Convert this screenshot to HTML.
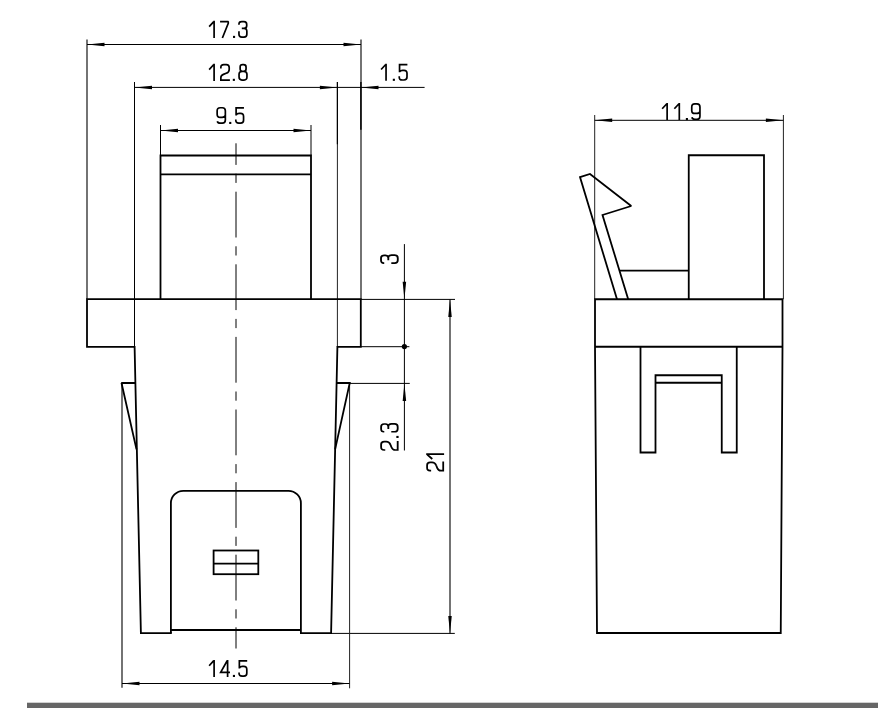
<!DOCTYPE html>
<html><head><meta charset="utf-8"><style>
html,body{margin:0;padding:0;background:#fff;width:896px;height:727px;overflow:hidden}
svg{display:block;will-change:transform}
text{font-family:"Liberation Sans",sans-serif;font-size:24px;fill:#000}
</style></head><body>
<svg width="896" height="727" viewBox="0 0 896 727">
<rect width="896" height="727" fill="#fff"/>
<line x1="87" y1="39.5" x2="87" y2="299.2" stroke="#000" stroke-width="1.1" />
<line x1="361" y1="39.5" x2="361" y2="299.2" stroke="#000" stroke-width="1.1" />
<line x1="134.5" y1="82" x2="134.5" y2="346.6" stroke="#000" stroke-width="1.0" />
<line x1="337.4" y1="82" x2="337.4" y2="346.9" stroke="#222" stroke-width="1.0" />
<line x1="337.4" y1="82" x2="337.4" y2="144.3" stroke="#000" stroke-width="1.2" />
<line x1="360.9" y1="82" x2="360.9" y2="129.7" stroke="#000" stroke-width="1.4" />
<line x1="160.5" y1="125" x2="160.5" y2="155.5" stroke="#000" stroke-width="1.0" />
<line x1="311" y1="125" x2="311" y2="155.5" stroke="#000" stroke-width="1.0" />
<line x1="87" y1="44.5" x2="361" y2="44.5" stroke="#000" stroke-width="1.0" />
<path d="M87.00,44.50 L104.50,42.75 L104.50,46.25 Z" fill="#000"/>
<path d="M361.00,44.50 L343.50,42.75 L343.50,46.25 Z" fill="#000"/>
<line x1="134.5" y1="87.4" x2="424.6" y2="87.4" stroke="#000" stroke-width="1.0" />
<path d="M134.50,87.40 L152.00,85.65 L152.00,89.15 Z" fill="#000"/>
<path d="M337.40,87.40 L319.90,85.65 L319.90,89.15 Z" fill="#000"/>
<path d="M361.00,87.40 L378.50,85.65 L378.50,89.15 Z" fill="#000"/>
<line x1="160.5" y1="130.5" x2="311" y2="130.5" stroke="#000" stroke-width="1.0" />
<path d="M160.50,130.50 L178.00,128.75 L178.00,132.25 Z" fill="#000"/>
<path d="M311.00,130.50 L293.50,128.75 L293.50,132.25 Z" fill="#000"/>
<line x1="360.8" y1="299.4" x2="455" y2="299.4" stroke="#000" stroke-width="1.0" />
<line x1="360.8" y1="346.7" x2="409.4" y2="346.7" stroke="#000" stroke-width="1.0" />
<line x1="349.75" y1="383.4" x2="409.75" y2="383.4" stroke="#000" stroke-width="1.0" />
<line x1="331.1" y1="633.4" x2="454.8" y2="633.4" stroke="#000" stroke-width="1.0" />
<line x1="404.4" y1="244.1" x2="404.4" y2="450.5" stroke="#000" stroke-width="1.0" />
<path d="M404.40,299.20 L402.65,281.70 L406.15,281.70 Z" fill="#000"/>
<path d="M404.40,383.40 L402.65,400.90 L406.15,400.90 Z" fill="#000"/>
<circle cx="404.4" cy="346.6" r="2.6" fill="#000"/>
<line x1="450" y1="299.4" x2="450" y2="633.4" stroke="#000" stroke-width="1.1" />
<path d="M450.00,299.40 L448.25,316.90 L451.75,316.90 Z" fill="#000"/>
<path d="M450.00,633.40 L448.25,615.90 L451.75,615.90 Z" fill="#000"/>
<line x1="122" y1="383" x2="122" y2="687.8" stroke="#000" stroke-width="1.1" />
<line x1="349.6" y1="383.4" x2="349.6" y2="688.3" stroke="#222" stroke-width="1.0" />
<line x1="122" y1="683.5" x2="349.6" y2="683.5" stroke="#000" stroke-width="1.0" />
<path d="M122.00,683.50 L139.50,681.75 L139.50,685.25 Z" fill="#000"/>
<path d="M349.60,683.50 L332.10,681.75 L332.10,685.25 Z" fill="#000"/>
<line x1="236" y1="143.3" x2="236" y2="648.5" stroke="#000" stroke-width="1" stroke-dasharray="45.8 8.8 9.2 8.8" stroke-dashoffset="-48.4"/>
<path d="M160.5,299.2 L160.5,155.5 L311,155.5 L311,299.2" fill="none" stroke="#000" stroke-width="1.8" stroke-linejoin="miter" stroke-miterlimit="1.6" stroke-linecap="butt"/>
<line x1="160.5" y1="174.35" x2="311" y2="174.35" stroke="#000" stroke-width="1.8" />
<path d="M171.8,633.1 L140.9,633.1 L134.6,346.9 L87,346.9 L87,299.2 L360.8,299.2 L360.8,346.9 L337.4,346.9 L331.1,633.1 L300,633.1" fill="none" stroke="#000" stroke-width="1.8" stroke-linejoin="miter" stroke-miterlimit="1.6" stroke-linecap="butt"/>
<path d="M170.9,633.1 L170.9,503.2 A12.4,12.4 0 0 1 183.3,490.8 L288.5,490.8 A12.4,12.4 0 0 1 300.9,503.2 L300.9,633.1" fill="none" stroke="#000" stroke-width="1.8"/>
<line x1="170.9" y1="630" x2="300.9" y2="630" stroke="#000" stroke-width="1.8" />
<rect x="213.6" y="550.5" width="44.7" height="23.7" fill="none" stroke="#000" stroke-width="1.8"/>
<line x1="213.6" y1="563.7" x2="258.3" y2="563.7" stroke="#000" stroke-width="1.8" />
<path d="M135.4,383 L121.5,383 L136.5,449.4" fill="none" stroke="#000" stroke-width="1.8" stroke-linejoin="miter" stroke-miterlimit="1.6" stroke-linecap="butt"/>
<path d="M336.3,383 L349.75,383 L335.1,449.4" fill="none" stroke="#000" stroke-width="1.8" stroke-linejoin="miter" stroke-miterlimit="1.6" stroke-linecap="butt"/>
<line x1="594.7" y1="115" x2="594.7" y2="299.25" stroke="#222" stroke-width="1.0" />
<line x1="783.4" y1="115" x2="783.4" y2="299.25" stroke="#222" stroke-width="1.0" />
<line x1="594.7" y1="120.3" x2="783.4" y2="120.3" stroke="#000" stroke-width="1.0" />
<path d="M594.70,120.30 L612.20,118.55 L612.20,122.05 Z" fill="#000"/>
<path d="M783.40,120.30 L765.90,118.55 L765.90,122.05 Z" fill="#000"/>
<path d="M688.75,299.25 L688.75,155.25 L764,155.25 L764,299.25" fill="none" stroke="#000" stroke-width="1.8" stroke-linejoin="miter" stroke-miterlimit="1.6" stroke-linecap="butt"/>
<line x1="619.75" y1="270.6" x2="688.75" y2="270.6" stroke="#000" stroke-width="1.8" />
<path d="M617,299.25 L580,177.1 L590,174 L631.25,206 L602.5,215 L628.2,299.25" fill="none" stroke="#000" stroke-width="1.8" stroke-linejoin="miter" stroke-miterlimit="1.6" stroke-linecap="butt"/>
<path d="M595,299.25 L782.5,299.25 L782.5,346.75 L780.75,633 L597,633 L595,346.75 Z" fill="none" stroke="#000" stroke-width="1.8" stroke-linejoin="miter" stroke-miterlimit="1.6" stroke-linecap="butt"/>
<line x1="595" y1="346.75" x2="782.5" y2="346.75" stroke="#000" stroke-width="1.8" />
<path d="M640.5,346.75 L640.5,452.5 L655.5,452.5 L655.5,375.25 L721.75,375.25 L721.75,452.5 L736.75,452.5 L736.75,346.75" fill="none" stroke="#000" stroke-width="1.8" stroke-linejoin="miter" stroke-miterlimit="1.6" stroke-linecap="butt"/>
<line x1="655.5" y1="382.75" x2="721.75" y2="382.75" stroke="#000" stroke-width="1.8" />
<g transform="translate(0,20.85)" fill="none" stroke="#000" stroke-width="1.7"><path transform="translate(208.55,0)" d="M5.55,0 L5.55,17.1 M0.6,5.8 L5.0,1.0"/><path transform="translate(220.07,0)" d="M0,0.85 L8.1,0.85 Q8.4,1.0 8.2,2.4 L2.3,17.1"/><rect x="233.00" y="15.0" width="2.1" height="2.1" fill="#000" stroke="none"/><path transform="translate(238.10,0)" d="M0.85,3.8 L0.85,3.4 Q0.85,0.85 3.6,0.85 L5.9,0.85 Q8.6,0.85 8.6,3.6 L8.6,4.9 Q8.6,7.55 5.9,7.55 L3.7,7.55 M5.9,7.55 Q8.75,7.55 8.75,10.5 L8.75,13.4 Q8.75,16.25 5.9,16.25 L3.7,16.25 Q0.85,16.25 0.85,13.4 L0.85,10.3"/></g>
<g transform="translate(0,63.80)" fill="none" stroke="#000" stroke-width="1.7"><path transform="translate(208.55,0)" d="M5.55,0 L5.55,17.1 M0.6,5.8 L5.0,1.0"/><path transform="translate(220.00,0)" d="M0.85,4.7 L0.85,3.6 Q0.85,0.85 3.8,0.85 L6.3,0.85 Q9.2,0.85 9.2,3.8 L9.2,5.6 Q9.2,8.4 6.2,9.5 L3.4,10.6 Q0.85,11.6 0.85,14.0 L0.85,16.25 L9.9,16.25"/><rect x="232.80" y="15.0" width="2.1" height="2.1" fill="#000" stroke="none"/><path transform="translate(238.20,0)" d="M4.9,7.5 L3.9,7.5 Q1.95,7.5 1.95,5.2 L1.95,3.3 Q1.95,0.85 4.4,0.85 L5.4,0.85 Q7.85,0.85 7.85,3.3 L7.85,5.2 Q7.85,7.5 5.6,7.5 L3.9,7.5 Q0.85,7.5 0.85,10.5 L0.85,13.3 Q0.85,16.25 3.8,16.25 L5.8,16.25 Q8.75,16.25 8.75,13.3 L8.75,10.5 Q8.75,7.5 5.6,7.5"/></g>
<g transform="translate(0,659.90)" fill="none" stroke="#000" stroke-width="1.7"><path transform="translate(208.55,0)" d="M5.55,0 L5.55,17.1 M0.6,5.8 L5.0,1.0"/><path transform="translate(219.80,0)" d="M7.8,0 L7.8,17.1 M7.4,0.85 L0.85,12.5 L10.2,12.5"/><rect x="232.90" y="15.0" width="2.1" height="2.1" fill="#000" stroke="none"/><path transform="translate(238.20,0)" d="M9.0,0.95 L1.15,0.95 L1.15,8.6 M1.15,8.2 Q1.9,6.55 4.2,6.55 L5.6,6.55 Q8.6,6.55 8.6,9.6 L8.6,13.3 Q8.6,16.25 5.6,16.25 L3.9,16.25 Q0.85,16.25 0.85,13.4 L0.85,12.5"/></g>
<g transform="translate(0,106.90)" fill="none" stroke="#000" stroke-width="1.7"><path transform="translate(216.30,0)" d="M9.05,8.4 Q8.4,10.45 5.8,10.45 L3.9,10.45 Q0.85,10.45 0.85,7.4 L0.85,3.9 Q0.85,0.85 3.9,0.85 L6.0,0.85 Q9.05,0.85 9.05,3.9 L9.05,13.2 Q9.05,16.25 6.0,16.25 L3.9,16.25 Q1.5,16.25 1.0,14.3"/><rect x="229.20" y="15.0" width="2.1" height="2.1" fill="#000" stroke="none"/><path transform="translate(234.96,0)" d="M9.0,0.95 L1.15,0.95 L1.15,8.6 M1.15,8.2 Q1.9,6.55 4.2,6.55 L5.6,6.55 Q8.6,6.55 8.6,9.6 L8.6,13.3 Q8.6,16.25 5.6,16.25 L3.9,16.25 Q0.85,16.25 0.85,13.4 L0.85,12.5"/></g>
<g transform="translate(0,63.75)" fill="none" stroke="#000" stroke-width="1.7"><path transform="translate(380.50,0)" d="M5.55,0 L5.55,17.1 M0.6,5.8 L5.0,1.0"/><rect x="392.80" y="15.0" width="2.1" height="2.1" fill="#000" stroke="none"/><path transform="translate(398.40,0)" d="M9.0,0.95 L1.15,0.95 L1.15,8.6 M1.15,8.2 Q1.9,6.55 4.2,6.55 L5.6,6.55 Q8.6,6.55 8.6,9.6 L8.6,13.3 Q8.6,16.25 5.6,16.25 L3.9,16.25 Q0.85,16.25 0.85,13.4 L0.85,12.5"/></g>
<g transform="translate(0,103.00)" fill="none" stroke="#000" stroke-width="1.7"><path transform="translate(661.58,0)" d="M5.55,0 L5.55,17.1 M0.6,5.8 L5.0,1.0"/><path transform="translate(673.75,0)" d="M5.55,0 L5.55,17.1 M0.6,5.8 L5.0,1.0"/><rect x="685.85" y="15.0" width="2.1" height="2.1" fill="#000" stroke="none"/><path transform="translate(690.90,0)" d="M9.05,8.4 Q8.4,10.45 5.8,10.45 L3.9,10.45 Q0.85,10.45 0.85,7.4 L0.85,3.9 Q0.85,0.85 3.9,0.85 L6.0,0.85 Q9.05,0.85 9.05,3.9 L9.05,13.2 Q9.05,16.25 6.0,16.25 L3.9,16.25 Q1.5,16.25 1.0,14.3"/></g>
<g transform="translate(380.10,263.90) rotate(-90) scale(1,1.0877)" fill="none" stroke="#000" stroke-width="1.7"><path transform="translate(0.00,0)" d="M0.85,3.8 L0.85,3.4 Q0.85,0.85 3.6,0.85 L5.9,0.85 Q8.6,0.85 8.6,3.6 L8.6,4.9 Q8.6,7.55 5.9,7.55 L3.7,7.55 M5.9,7.55 Q8.75,7.55 8.75,10.5 L8.75,13.4 Q8.75,16.25 5.9,16.25 L3.7,16.25 Q0.85,16.25 0.85,13.4 L0.85,10.3"/></g>
<g transform="translate(380.20,450.85) rotate(-90) scale(1,1.0760)" fill="none" stroke="#000" stroke-width="1.7"><path transform="translate(0.00,0)" d="M0.85,4.7 L0.85,3.6 Q0.85,0.85 3.8,0.85 L6.3,0.85 Q9.2,0.85 9.2,3.8 L9.2,5.6 Q9.2,8.4 6.2,9.5 L3.4,10.6 Q0.85,11.6 0.85,14.0 L0.85,16.25 L9.9,16.25"/><rect x="12.85" y="15.0" width="2.1" height="2.1" fill="#000" stroke="none"/><path transform="translate(18.25,0)" d="M0.85,3.8 L0.85,3.4 Q0.85,0.85 3.6,0.85 L5.9,0.85 Q8.6,0.85 8.6,3.6 L8.6,4.9 Q8.6,7.55 5.9,7.55 L3.7,7.55 M5.9,7.55 Q8.75,7.55 8.75,10.5 L8.75,13.4 Q8.75,16.25 5.9,16.25 L3.7,16.25 Q0.85,16.25 0.85,13.4 L0.85,10.3"/></g>
<g transform="translate(426.20,471.50) rotate(-90) scale(1,1.0468)" fill="none" stroke="#000" stroke-width="1.7"><path transform="translate(0.00,0)" d="M0.85,4.7 L0.85,3.6 Q0.85,0.85 3.8,0.85 L6.3,0.85 Q9.2,0.85 9.2,3.8 L9.2,5.6 Q9.2,8.4 6.2,9.5 L3.4,10.6 Q0.85,11.6 0.85,14.0 L0.85,16.25 L9.9,16.25"/><path transform="translate(11.90,0)" d="M5.55,0 L5.55,17.1 M0.6,5.8 L5.0,1.0"/></g>
<rect x="27" y="702.7" width="851" height="5.3" fill="#666"/>
</svg></body></html>
